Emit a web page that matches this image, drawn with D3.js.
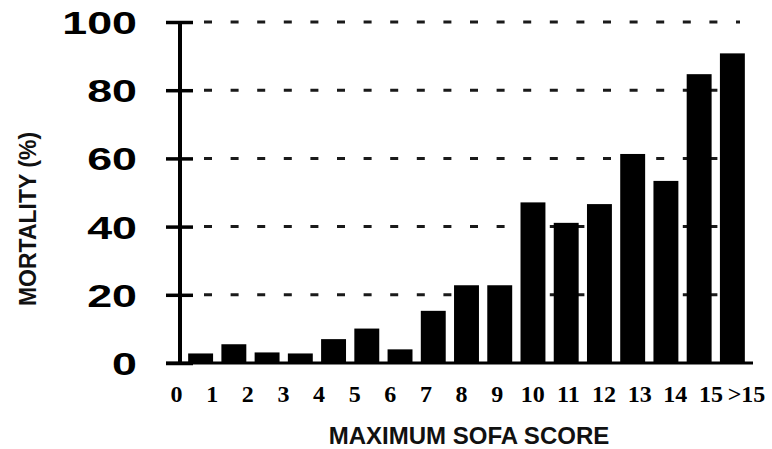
<!DOCTYPE html>
<html>
<head>
<meta charset="utf-8">
<script src="https://cdn.jsdelivr.net/npm/d3@7"></script>
<style>
  html, body { margin: 0; padding: 0; background: #fff; }
  svg { display: block; }
</style>
</head>
<body>
<svg id="chart" width="772" height="449"></svg>
<script>
const categories = ["0","1","2","3","4","5","6","7","8","9","10","11","12","13","14","15",">15"];
const mortality = [2.8, 5.5, 3.1, 2.8, 7.0, 10.1, 4.0, 15.3, 22.8, 22.8, 47.1, 41.1, 46.6, 61.3, 53.4, 84.7, 90.8];
const yTicks = [0, 20, 40, 60, 80, 100];
const xTitle = "MAXIMUM SOFA SCORE";
const yTitle = "MORTALITY (%)";

const svg = d3.select("#chart");
const axisX = 180, baseY = 363, topY = 22;

const y = d3.scaleLinear().domain([0, 100]).range([baseY, topY]);
const xBar = d3.scaleBand().domain(categories).range([184, 749]).paddingInner(0.25).paddingOuter(0.125);
const xLab = d3.scalePoint().domain(categories).range([176, 746]);

// dashed gridlines
svg.append("g").selectAll("line")
  .data(yTicks.filter(d => d > 0))
  .join("line")
  .attr("x1", 204).attr("x2", 740)
  .attr("y1", d => y(d)).attr("y2", d => y(d))
  .attr("stroke", "#1a1a1a").attr("stroke-width", 3)
  .attr("stroke-dasharray", "8,18.6");

// bars
svg.append("g").selectAll("rect")
  .data(mortality)
  .join("rect")
  .attr("x", (d, i) => xBar(categories[i]))
  .attr("width", xBar.bandwidth())
  .attr("y", d => y(d))
  .attr("height", d => baseY - y(d))
  .attr("fill", "#000");

// x baseline
svg.append("line")
  .attr("x1", 166).attr("x2", 753)
  .attr("y1", baseY).attr("y2", baseY)
  .attr("stroke", "#000").attr("stroke-width", 3);

// y axis
const sx = 1.4;
const yAxis = svg.append("g")
  .attr("transform", `translate(${axisX},0)`)
  .call(d3.axisLeft(y).tickValues(yTicks).tickSize(14).tickPadding(29));
yAxis.select(".domain").remove();
yAxis.append("line")
  .attr("x1", 0).attr("x2", 0)
  .attr("y1", topY).attr("y2", baseY)
  .attr("stroke", "#000").attr("stroke-width", 4);
yAxis.selectAll(".tick line")
  .attr("x1", 13).attr("x2", -14)
  .attr("stroke", "#000").attr("stroke-width", 3.5);
yAxis.selectAll(".tick text")
  .attr("x", -43 / sx)
  .attr("transform", `scale(${sx},1)`)
  .attr("dy", "0.36em")
  .attr("fill", "#000")
  .style("font-family", "'Liberation Sans', Arial, sans-serif")
  .style("font-weight", "bold")
  .style("font-size", "32px");

// x labels
const xAxis = svg.append("g")
  .attr("transform", `translate(0,${baseY})`)
  .call(d3.axisBottom(xLab).tickSize(0).tickPadding(0));
xAxis.select(".domain").remove();
xAxis.selectAll(".tick text")
  .attr("y", 39).attr("dy", 0)
  .attr("fill", "#000")
  .style("font-family", "'Liberation Serif', 'Times New Roman', serif")
  .style("font-weight", "bold")
  .style("font-size", "24px");

// titles
svg.append("text")
  .attr("x", 469).attr("y", 444)
  .attr("text-anchor", "middle")
  .style("font-family", "'Liberation Sans', Arial, sans-serif")
  .style("font-weight", "bold")
  .style("font-size", "24px")
  .attr("fill", "#111")
  .text(xTitle);

svg.append("text")
  .attr("transform", "translate(36,219) rotate(-90)")
  .attr("text-anchor", "middle")
  .style("font-family", "'Liberation Sans', Arial, sans-serif")
  .style("font-weight", "bold")
  .style("font-size", "23px")
  .attr("fill", "#111")
  .text(yTitle);
</script>
</body>
</html>
